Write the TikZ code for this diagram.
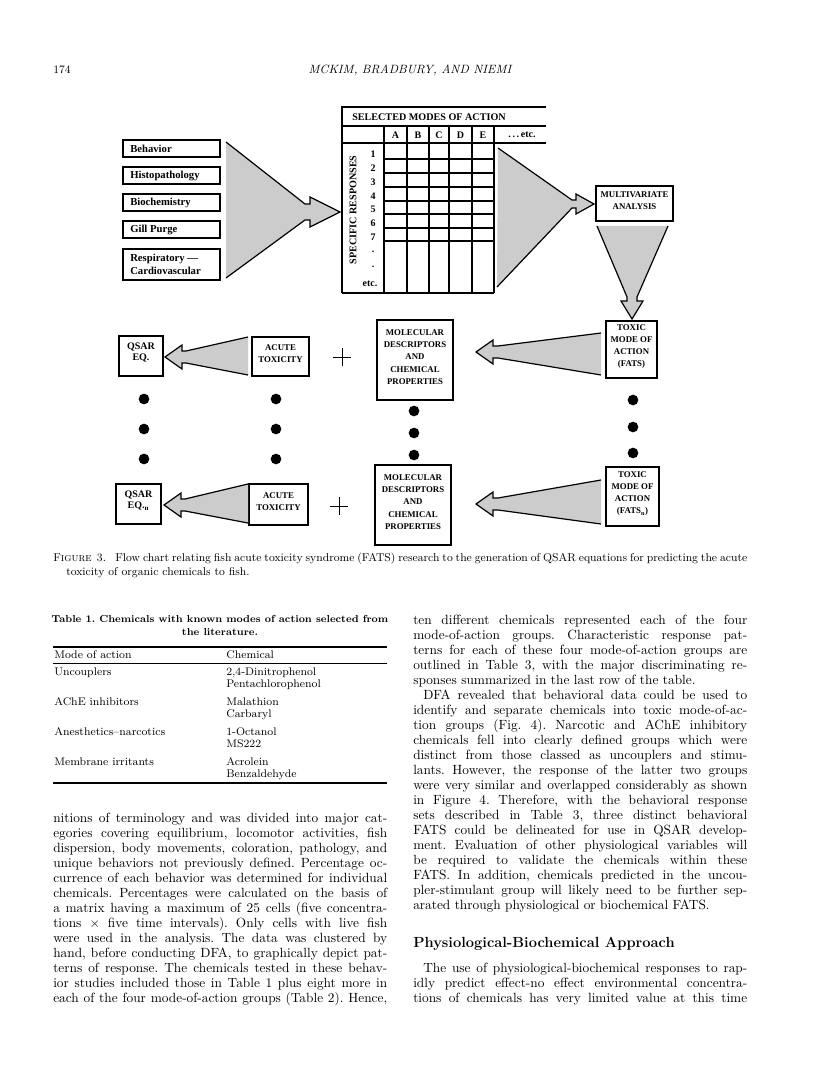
\documentclass[tikz,border=0pt]{standalone}
\usepackage{fontspec}
\usetikzlibrary{fit}
\newfontfamily\dfont{Liberation Serif}
\newcommand\bodyfont{\fontsize{10}{11.25}\selectfont}
\newcommand\capfont{\fontsize{8.5}{10}\selectfont}
\newcommand\tabfont{\fontsize{8.3}{9}\selectfont}
\newcommand\jl[4]{\node[txt] (#1) at (#2,#3) {\makebox[250.5pt][s]{#4}};}
\newcommand\jli[4]{\node[txt] (#1) at (#2+10,#3) {\makebox[243pt][s]{#4}};}
\newcommand\nl[4]{\node[txt] (#1) at (#2,#3) {#4};}
\frenchspacing
\tikzset{
  bx/.style={draw, line width=0.9pt, inner sep=0pt, align=center, font=\dfont\bfseries\fontsize{6.6}{9.2}\selectfont},
  qbx/.style={bx, font=\dfont\bfseries\fontsize{7.5}{8.5}\selectfont},
  lbx/.style={draw, line width=1.2pt, inner sep=0pt},
  ltxt/.style={anchor=west, inner sep=0pt, align=left, font=\dfont\bfseries\fontsize{8}{10}\selectfont},
  funnel/.style={fill=black!20},
  fline/.style={line width=0.9pt, line join=miter},
  gridl/.style={line width=0.8pt},
  gridb/.style={line width=1.1pt},
  dot/.style={circle, fill=black, inner sep=0pt, minimum size=8pt},
  txt/.style={anchor=base west, inner sep=0pt, font=\bodyfont},
  tlab/.style={inner sep=0pt, font=\dfont\bfseries\fontsize{7.5}{8}\selectfont},
  ttxt/.style={anchor=base west, inner sep=0pt, font=\tabfont},
}
\begin{document}
\begin{tikzpicture}[x=0.75pt,y=-0.75pt]
\fill[white] (0,0) rectangle (816,1073);
\useasboundingbox (0,0) rectangle (816,1073);

% ---------- running head ----------
\node[anchor=base west, inner sep=0pt, font=\fontsize{8.5}{10}\selectfont] (pg) at (53,74) {174};
\node[anchor=base, inner sep=0pt, font=\itshape\fontsize{9}{10}\selectfont] (hd) at (410,74) {MCKIM, BRADBURY, AND NIEMI};

% ---------- left input boxes ----------
\node[lbx, fit={(123,140) (220,157)}] (beh) {};
\node[lbx, fit={(123,167) (220,184)}] (his) {};
\node[lbx, fit={(123,194) (220,211)}] (bio) {};
\node[lbx, fit={(123,221) (220,238)}] (gill) {};
\node[lbx, fit={(123,249) (220,280)}] (resp) {};
\node[ltxt] (behT) at (130,148.5) {Behavior};
\node[ltxt] (hisT) at (130,175.5) {Histopathology};
\node[ltxt] (bioT) at (130,202.5) {Biochemistry};
\node[ltxt] (gillT) at (130,229.5) {Gill Purge};
\node[ltxt] (respT) at (130,264.5) {Respiratory \textemdash\\Cardiovascular};

% big funnel into table
\path[funnel] (226,142) -- (305,204) -- (310,204) -- (310,197) -- (340,212) -- (310,227) -- (310,220) -- (305,220) -- (226,278) -- cycle;
\draw[fline] (226,142) -- (305,204) -- (310,204) -- (310,197) -- (340,212) -- (310,227) -- (310,220) -- (305,220) -- (226,278);

% ---------- table of modes of action ----------
\draw[gridb] (342,293) -- (342,107) -- (546,107);
\draw[gridl] (342,126) -- (546,126);
\draw[gridl] (342,143) -- (546,143);
\draw[gridb] (342,293) -- (494,293);
\foreach \cx in {384,407,429,449,472,494} \draw[gridl] (\cx,126) -- (\cx,293);
\foreach \ry in {159,173,187,201,214,228,241} \draw[gridl] (384,\ry) -- (494,\ry);
\node[tlab, anchor=west, font=\dfont\bfseries\fontsize{7.6}{8}\selectfont] (smoa) at (352,117) {SELECTED MODES OF ACTION};
\node[tlab] (cA) at (395.5,135) {A};
\node[tlab] (cB) at (418,135) {B};
\node[tlab] (cC) at (439,135) {C};
\node[tlab] (cD) at (460.5,135) {D};
\node[tlab] (cE) at (483,135) {E};
\node[tlab] (cEtc) at (522,135) {.\,.\,.\,etc.};
\node[tlab, rotate=90, font=\dfont\bfseries\fontsize{7.6}{8}\selectfont] (spr) at (353,210) {SPECIFIC RESPONSES};
\node[tlab] (r1) at (373,154) {1};
\node[tlab] (r2) at (373,168) {2};
\node[tlab] (r3) at (373,182) {3};
\node[tlab] (r4) at (373,196) {4};
\node[tlab] (r5) at (373,209) {5};
\node[tlab] (r6) at (373,223) {6};
\node[tlab] (r7) at (373,237) {7};
\node[tlab] (r8) at (373,252) {.};
\node[tlab] (r9) at (373,267) {.};
\node[tlab] (r10) at (370,284) {etc.};

% funnel to multivariate analysis
\node[bx, fit={(596,186) (673,221)}] (mva) {MULTIVARIATE\\ANALYSIS};
\path[funnel] (498,148) -- (572,200) -- (576,200) -- (576,194) -- (594,204) -- (576,214) -- (576,208) -- (572,208) -- (497,287) -- cycle;
\draw[fline] (498,148) -- (572,200) -- (576,200) -- (576,194) -- (594,204) -- (576,214) -- (576,208) -- (572,208) -- (497,287);

% down funnel
\path[funnel] (597,226) -- (627,297) -- (627,301) -- (621,301) -- (632,319) -- (643,301) -- (637,301) -- (637,297) -- (668,226) -- cycle;
\draw[fline] (597,226) -- (627,297) -- (627,301) -- (621,301) -- (632,319) -- (643,301) -- (637,301) -- (637,297) -- (668,226);

% ---------- row 1 ----------
\node[qbx, fit={(119,336) (163,376)}] (qsar1) {QSAR\\EQ.};
\node[bx, fit={(252,337) (309,376)}] (acute1) {ACUTE\\TOXICITY};
\node[bx, fit={(377,320) (453,400)}] (mol1) {MOLECULAR\\DESCRIPTORS\\AND\\CHEMICAL\\PROPERTIES};
\node[bx, fit={(606,321) (657,378)}] (tox1) {TOXIC\\MODE OF\\ACTION\\(FATS)};
\draw[line width=0.6pt] (333,357) -- (351,357) (342,348) -- (342,366);
\path[funnel] (248,337) -- (186,351) -- (182,351) -- (182,345) -- (165,357) -- (182,369) -- (182,363) -- (186,363) -- (248,375) -- cycle;
\draw[fline] (248,337) -- (186,351) -- (182,351) -- (182,345) -- (165,357) -- (182,369) -- (182,363) -- (186,363) -- (248,375);
\path[funnel] (601,333) -- (498,346) -- (493,346) -- (493,340) -- (476,352) -- (493,364) -- (493,358) -- (498,358) -- (601,375) -- cycle;
\draw[fline] (601,333) -- (498,346) -- (493,346) -- (493,340) -- (476,352) -- (493,364) -- (493,358) -- (498,358) -- (601,375);

% ---------- dots ----------
\foreach \dy [count=\i] in {399,429,459} {
  \node[dot] (dq\i) at (144,\dy) {};
  \node[dot] (da\i) at (276,\dy) {};
}
\foreach \dy [count=\i] in {411,433,455} \node[dot] (dm\i) at (414,\dy) {};
\foreach \dy [count=\i] in {400,427,453} \node[dot] (dt\i) at (633,\dy) {};

% ---------- row 2 ----------
\node[qbx, fit={(116,484) (161,524)}] (qsar2) {QSAR\\EQ.\textsubscript{n}};
\node[bx, fit={(249,484) (308,525)}] (acute2) {ACUTE\\TOXICITY};
\node[bx, fit={(375,465) (451,545)}] (mol2) {MOLECULAR\\DESCRIPTORS\\AND\\CHEMICAL\\PROPERTIES};
\node[bx, fit={(606,467) (659,526)}] (tox2) {TOXIC\\MODE OF\\ACTION\\(FATS\textsubscript{n})};
\draw[line width=0.6pt] (330,506) -- (348,506) (339,497) -- (339,515);
\path[funnel] (248,484) -- (185,499) -- (181,499) -- (181,493) -- (164,505) -- (181,517) -- (181,511) -- (185,511) -- (248,523) -- cycle;
\draw[fline] (248,484) -- (185,499) -- (181,499) -- (181,493) -- (164,505) -- (181,517) -- (181,511) -- (185,511) -- (248,523);
\path[funnel] (601,480) -- (498,498) -- (493,498) -- (493,492) -- (476,504) -- (493,516) -- (493,510) -- (498,510) -- (601,524) -- cycle;
\draw[fline] (601,480) -- (498,498) -- (493,498) -- (493,492) -- (476,504) -- (493,516) -- (493,510) -- (498,510) -- (601,524);

% ---------- caption ----------
\node[anchor=base west, inner sep=0pt, font=\capfont] (cap1) at (53,561) {\makebox[520.5pt][s]{F\textsc{igure}\hspace{4pt}3.\hspace{7pt}Flow chart relating fish acute toxicity syndrome (FATS) research to the generation of QSAR equations for predicting the acute}};
\node[anchor=base west, inner sep=0pt, font=\capfont] (cap2) at (66,575) {toxicity of organic chemicals to fish.};

% ---------- Table 1 ----------
\node[anchor=base, inner sep=0pt, font=\bfseries\fontsize{7.6}{9}\selectfont] (t1a) at (220,622) {Table 1. Chemicals with known modes of action selected from};
\node[anchor=base, inner sep=0pt, font=\bfseries\fontsize{7.6}{9}\selectfont] (t1b) at (220,635) {the literature.};
\draw[line width=1pt] (53,647) -- (387,647);
\node[ttxt] (th1) at (54,658) {Mode of action};
\node[ttxt] (th2) at (226,658) {Chemical};
\draw[line width=0.6pt] (53,663) -- (387,663);
\node[ttxt] (m1) at (54,675) {Uncouplers};
\node[ttxt] (c1a) at (226,675) {2,4-Dinitrophenol};
\node[ttxt] (c1b) at (226,687) {Pentachlorophenol};
\node[ttxt] (m2) at (54,705) {AChE inhibitors};
\node[ttxt] (c2a) at (226,705) {Malathion};
\node[ttxt] (c2b) at (226,717) {Carbaryl};
\node[ttxt] (m3) at (54,735) {Anesthetics--narcotics};
\node[ttxt] (c3a) at (226,735) {1-Octanol};
\node[ttxt] (c3b) at (226,747) {MS222};
\node[ttxt] (m4) at (54,765) {Membrane irritants};
\node[ttxt] (c4a) at (226,765) {Acrolein};
\node[ttxt] (c4b) at (226,777) {Benzaldehyde};
\draw[line width=1pt] (53,783) -- (387,783);

% ---------- left column text ----------
\jl{L1}{53}{822}{nitions of terminology and was divided into major cat-}
\jl{L2}{53}{837}{egories covering equilibrium, locomotor activities, fish}
\jl{L3}{53}{852}{dispersion, body movements, coloration, pathology, and}
\jl{L4}{53}{867}{unique behaviors not previously defined. Percentage oc-}
\jl{L5}{53}{882}{currence of each behavior was determined for individual}
\jl{L6}{53}{897}{chemicals. Percentages were calculated on the basis of}
\jl{L7}{53}{912}{a matrix having a maximum of 25 cells (five concentra-}
\jl{L8}{53}{927}{tions $\times$ five time intervals). Only cells with live fish}
\jl{L9}{53}{942}{were used in the analysis. The data was clustered by}
\jl{L10}{53}{957}{hand, before conducting DFA, to graphically depict pat-}
\jl{L11}{53}{972}{terns of response. The chemicals tested in these behav-}
\jl{L12}{53}{987}{ior studies included those in Table 1 plus eight more in}
\jl{L13}{53}{1002}{each of the four mode-of-action groups (Table 2). Hence,}

% ---------- right column text ----------
\jl{R1}{413}{624}{ten different chemicals represented each of the four}
\jl{R2}{413}{639}{mode-of-action groups. Characteristic response pat-}
\jl{R3}{413}{654}{terns for each of these four mode-of-action groups are}
\jl{R4}{413}{669}{outlined in Table 3, with the major discriminating re-}
\nl{R5}{413}{684}{sponses summarized in the last row of the table.}
\jli{R6}{413}{699}{DFA revealed that behavioral data could be used to}
\jl{R7}{413}{714}{identify and separate chemicals into toxic mode-of-ac-}
\jl{R8}{413}{729}{tion groups (Fig. 4). Narcotic and AChE inhibitory}
\jl{R9}{413}{744}{chemicals fell into clearly defined groups which were}
\jl{R10}{413}{759}{distinct from those classed as uncouplers and stimu-}
\jl{R11}{413}{774}{lants. However, the response of the latter two groups}
\jl{R12}{413}{789}{were very similar and overlapped considerably as shown}
\jl{R13}{413}{804}{in Figure 4. Therefore, with the behavioral response}
\jl{R14}{413}{819}{sets described in Table 3, three distinct behavioral}
\jl{R15}{413}{834}{FATS could be delineated for use in QSAR develop-}
\jl{R16}{413}{849}{ment. Evaluation of other physiological variables will}
\jl{R17}{413}{864}{be required to validate the chemicals within these}
\jl{R18}{413}{879}{FATS. In addition, chemicals predicted in the uncou-}
\jl{R19}{413}{894}{pler-stimulant group will likely need to be further sep-}
\nl{R20}{413}{909}{arated through physiological or biochemical FATS.}
\node[anchor=base west, inner sep=0pt, font=\bfseries\fontsize{11}{13}\selectfont] (head) at (413,947) {Physiological-Biochemical Approach};
\jli{R21}{413}{972}{The use of physiological-biochemical responses to rap-}
\jl{R22}{413}{987}{idly predict effect-no effect environmental concentra-}
\jl{R23}{413}{1002}{tions of chemicals has very limited value at this time}
\end{tikzpicture}
\end{document}
